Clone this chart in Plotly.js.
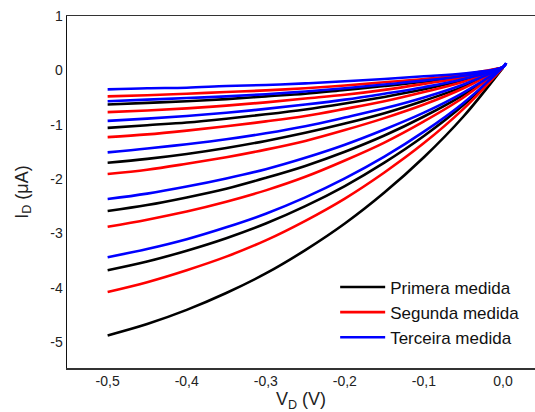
<!DOCTYPE html>
<html>
<head>
<meta charset="utf-8">
<script src="https://cdn.plot.ly/plotly-3.0.1.min.js"></script>
<style>html,body{margin:0;padding:0;background:#fff;}#chart{width:535px;height:412px;}</style>
</head>
<body>
<div id="chart"></div>
<script>
// Drain voltage (V)
var vd = [-0.5, -0.45, -0.4, -0.35, -0.3, -0.25, -0.2, -0.15, -0.1, -0.05, 0.0];
var vdBlue = [-0.5, -0.45, -0.4, -0.35, -0.3, -0.25, -0.2, -0.15, -0.1, -0.05, 0.0, 0.004];

// Primera medida (black), drain current in uA
var primera1 = [-0.63, -0.60, -0.57, -0.53, -0.48, -0.43, -0.36, -0.29, -0.21, -0.11, 0.05];
var primera2 = [-1.06, -1.01, -0.96, -0.89, -0.81, -0.72, -0.61, -0.49, -0.35, -0.18, 0.05];
var primera3 = [-1.70, -1.63, -1.54, -1.43, -1.30, -1.15, -0.98, -0.79, -0.56, -0.30, 0.05];
var primera4 = [-2.59, -2.48, -2.34, -2.18, -1.98, -1.76, -1.50, -1.20, -0.85, -0.45, 0.05];
var primera5 = [-3.68, -3.52, -3.32, -3.09, -2.82, -2.50, -2.13, -1.70, -1.21, -0.64, 0.05];
var primera6 = [-4.88, -4.67, -4.41, -4.10, -3.74, -3.31, -2.82, -2.25, -1.60, -0.85, 0.05];

// Segunda medida (red)
var segunda1 = [-0.48, -0.46, -0.43, -0.40, -0.37, -0.33, -0.28, -0.22, -0.16, -0.08, 0.05];
var segunda2 = [-0.77, -0.74, -0.70, -0.65, -0.59, -0.52, -0.45, -0.36, -0.25, -0.13, 0.05];
var segunda3 = [-1.23, -1.18, -1.11, -1.03, -0.94, -0.84, -0.71, -0.57, -0.40, -0.21, 0.05];
var segunda4 = [-1.91, -1.83, -1.72, -1.60, -1.46, -1.30, -1.10, -0.88, -0.63, -0.33, 0.05];
var segunda5 = [-2.88, -2.75, -2.60, -2.42, -2.21, -1.96, -1.66, -1.33, -0.94, -0.50, 0.05];
var segunda6 = [-4.08, -3.90, -3.68, -3.43, -3.13, -2.77, -2.36, -1.88, -1.34, -0.71, 0.05];

// Terceira medida (blue)
var terceira1 = [-0.35, -0.33, -0.32, -0.29, -0.27, -0.24, -0.20, -0.16, -0.11, -0.06, 0.06, 0.13];
var terceira2 = [-0.57, -0.54, -0.51, -0.48, -0.44, -0.39, -0.33, -0.26, -0.19, -0.10, 0.06, 0.13];
var terceira3 = [-0.93, -0.89, -0.84, -0.78, -0.71, -0.63, -0.54, -0.43, -0.31, -0.16, 0.06, 0.13];
var terceira4 = [-1.51, -1.44, -1.36, -1.27, -1.16, -1.03, -0.87, -0.70, -0.50, -0.26, 0.06, 0.13];
var terceira5 = [-2.37, -2.27, -2.14, -1.99, -1.82, -1.61, -1.37, -1.09, -0.78, -0.41, 0.06, 0.13];
var terceira6 = [-3.44, -3.29, -3.11, -2.89, -2.64, -2.34, -1.99, -1.59, -1.13, -0.60, 0.06, 0.13];

var seriesNames = ["Primera medida", "Segunda medida", "Terceira medida"];
var xTickVals = [-0.5, -0.4, -0.3, -0.2, -0.1, 0.0];
var xTickText = ["-0,5", "-0,4", "-0,3", "-0,2", "-0,1", "0,0"];
var yTickVals = [1, 0, -1, -2, -3, -4, -5];
var yTickText = ["1", "0", "-1", "-2", "-3", "-4", "-5"];

var groups = [
  {name: seriesNames[0], color: "#000000", x: vd, ys: [primera1, primera2, primera3, primera4, primera5, primera6]},
  {name: seriesNames[1], color: "#ff0000", x: vd, ys: [segunda1, segunda2, segunda3, segunda4, segunda5, segunda6]},
  {name: seriesNames[2], color: "#0000ff", x: vdBlue, ys: [terceira1, terceira2, terceira3, terceira4, terceira5, terceira6]}
];

var traces = [];
groups.forEach(function (g) {
  g.ys.forEach(function (y, i) {
    traces.push({
      x: g.x, y: y, type: "scatter", mode: "lines",
      line: {color: g.color, width: 2.6, shape: "spline", smoothing: 1},
      name: g.name, legendgroup: g.name, showlegend: i === 0
    });
  });
});

var font = "Arial, 'Liberation Sans', sans-serif";
var layout = {
  width: 535, height: 412,
  margin: {l: 67, r: 0, t: 16, b: 44},
  paper_bgcolor: "#fff", plot_bgcolor: "#fff",
  font: {family: font, color: "#222", size: 14},
  showlegend: true,
  legend: {x: 0.573, y: 0.28, xanchor: "left", yanchor: "top", bgcolor: "rgba(0,0,0,0)",
           itemwidth: 45,
           font: {family: font, size: 17, color: "#111"}, tracegroupgap: 0},
  xaxis: {
    range: [-0.5514, 0.0405], showgrid: false, zeroline: false,
    showline: true, linecolor: "#333", linewidth: 1.5, mirror: true,
    ticks: "", tickvals: xTickVals, ticktext: xTickText,
    tickfont: {family: font, size: 14, color: "#222"},
    title: {text: "V<sub>D</sub> (V)", font: {family: font, size: 18, color: "#222"}, standoff: 6}
  },
  yaxis: {
    range: [-5.48, 1.0], showgrid: false, zeroline: false,
    showline: true, linecolor: "#111", linewidth: 1.5, mirror: false,
    ticks: "", tickvals: yTickVals, ticktext: yTickText,
    tickfont: {family: font, size: 14, color: "#222"},
    title: {text: "I<sub>D</sub> (μA)", font: {family: font, size: 18, color: "#222"}, standoff: 17}
  }
};

Plotly.newPlot("chart", traces, layout, {displayModeBar: false, staticPlot: true});
</script>
</body>
</html>
